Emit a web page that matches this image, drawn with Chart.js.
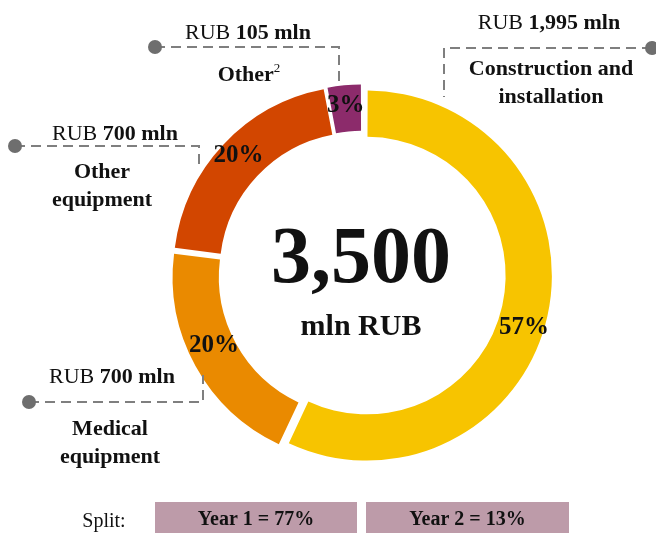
<!DOCTYPE html>
<html>
<head>
<meta charset="utf-8">
<script src="https://cdn.jsdelivr.net/npm/chart.js@4.4.0/dist/chart.umd.min.js"></script>
<style>
  html, body { margin: 0; padding: 0; background: #fff; }
  #wrap { width: 656px; height: 533px; }
</style>
</head>
<body>
<div id="wrap"><canvas id="cost-chart" width="656" height="533"></canvas></div>
<script>
/* global Chart */
const categories = ['Construction and installation', 'Medical equipment', 'Other equipment', 'Other'];
const amounts = [1995, 700, 700, 105];   // RUB mln
const shares = [57, 20, 20, 3];          // %
const splitLabels = ['Year 1 = 77%', 'Year 2 = 13%'];

const sliceColors = ['#F7C400', '#EA8A00', '#D24600', '#8C2B6B'];
const FONT = '"Liberation Serif", "DejaVu Serif", serif';
const EXPLODE = 20; // chart.js moves a slice offset/4 px

// callouts: name lines + leader line, same order as categories
const callouts = [
    { name: ['Construction and', 'installation'], amountX: 549, nameX: 551, amountY: 29, nameY: 75, path: [[652, 48], [444, 48], [444, 97]] },
    { name: ['Medical', 'equipment'], amountX: 112, nameX: 110, amountY: 383, nameY: 435, path: [[29, 402], [203, 402], [203, 375]] },
    { name: ['Other', 'equipment'], amountX: 115, nameX: 102, amountY: 140, nameY: 178, path: [[15, 146], [199, 146], [199, 170]] },
    { name: ['Other'], sup: '2', amountX: 248, nameX: 249, amountY: 39, nameY: 81, path: [[155, 47], [339, 47], [339, 82]] }
];
const labelNudge = [[4, 24], [-2, -3], [-2, 2], [-1, 0]];

function drawRuns(ctx, runs, cx, y) {
    let w = 0;
    runs.forEach(r => { ctx.font = r.font; r.w = ctx.measureText(r.text).width; w += r.w; });
    let x = cx - w / 2;
    ctx.textAlign = 'left';
    runs.forEach(r => {
        ctx.font = r.font;
        ctx.fillText(r.text, x, y + (r.dy || 0));
        x += r.w;
    });
}

// chart.js grows big exploded arcs a bit, keep all slices on one radius
const explodeFix = {
    id: 'explodeFix',
    beforeDatasetsDraw(chart) {
        const meta = chart.getDatasetMeta(0);
        const ctrl = meta.controller;
        meta.data.forEach(arc => {
            const t = (arc.options.offset || 0) / 4;
            const fix = 1 - Math.sin(Math.min(Math.PI, arc.circumference));
            arc.outerRadius = ctrl.outerRadius - t * fix;
            arc.innerRadius = ctrl.innerRadius - t * fix;
        });
    }
};

const annotations = {
    id: 'annotations',
    afterDraw(chart) {
        const ctx = chart.ctx;
        const meta = chart.getDatasetMeta(0);
        ctx.save();
        ctx.fillStyle = '#111';
        ctx.textBaseline = 'alphabetic';

        // percentage labels on the slices
        meta.data.forEach((arc, i) => {
            const { x, y, startAngle, endAngle, innerRadius, outerRadius } = arc;
            const a = (startAngle + endAngle) / 2;
            const r = (innerRadius + outerRadius) / 2 + EXPLODE / 4;
            ctx.font = 'bold 25px ' + FONT;
            ctx.textAlign = 'center';
            ctx.fillText(shares[i] + '%', x + Math.cos(a) * r + labelNudge[i][0], y + Math.sin(a) * r + labelNudge[i][1]);
        });

        // total in the middle
        const total = amounts.reduce((s, v) => s + v, 0);
        const cx = chart.chartArea.left + chart.chartArea.width / 2 - 1;
        ctx.textAlign = 'center';
        ctx.font = 'bold 80px ' + FONT;
        ctx.fillText(total.toLocaleString('en-US'), cx, 282);
        ctx.font = 'bold 30px ' + FONT;
        ctx.fillText('mln RUB', cx, 335);

        // leader lines
        callouts.forEach(c => {
            ctx.strokeStyle = '#7f7f7f';
            ctx.lineWidth = 2;
            ctx.setLineDash([10, 6]);
            ctx.beginPath();
            c.path.forEach((p, k) => k ? ctx.lineTo(p[0], p[1]) : ctx.moveTo(p[0], p[1]));
            ctx.stroke();
            ctx.setLineDash([]);
            ctx.fillStyle = '#6e6e6e';
            ctx.beginPath();
            ctx.arc(c.path[0][0], c.path[0][1], 7, 0, Math.PI * 2);
            ctx.fill();
        });

        // callout texts
        ctx.fillStyle = '#111';
        callouts.forEach((c, i) => {
            drawRuns(ctx, [
                { text: 'RUB ', font: '22px ' + FONT },
                { text: amounts[i].toLocaleString('en-US') + ' mln', font: 'bold 22px ' + FONT }
            ], c.amountX, c.amountY);
            c.name.forEach((line, k) => {
                const runs = [{ text: line, font: 'bold 22px ' + FONT }];
                if (c.sup && k === c.name.length - 1) runs.push({ text: c.sup, font: '13px ' + FONT, dy: -9 });
                drawRuns(ctx, runs, c.nameX, c.nameY + k * 28);
            });
        });

        // split boxes
        ctx.textAlign = 'center';
        ctx.font = '20px ' + FONT;
        ctx.fillText('Split:', 104, 527);
        const boxes = [[155, 202], [366, 203]];
        splitLabels.forEach((txt, i) => {
            ctx.fillStyle = '#BD9BA9';
            ctx.fillRect(boxes[i][0], 502, boxes[i][1], 31);
            ctx.fillStyle = '#111';
            ctx.font = 'bold 20px ' + FONT;
            ctx.fillText(txt, boxes[i][0] + boxes[i][1] / 2, 525);
        });
        ctx.restore();
    }
};

const ctx = document.getElementById('cost-chart').getContext('2d');
new Chart(ctx, {
    type: 'doughnut',
    data: {
        labels: categories,
        datasets: [{
            data: amounts,
            backgroundColor: sliceColors,
            borderWidth: 0,
            offset: EXPLODE,
            hoverOffset: 0
        }]
    },
    options: {
        responsive: false,
        animation: false,
        events: [],
        radius: 185,
        cutout: '75%',
        rotation: 0,
        layout: { padding: { left: 80, right: 12, top: 24, bottom: 8 } },
        plugins: {
            legend: { display: false },
            tooltip: { enabled: false }
        }
    },
    plugins: [explodeFix, annotations]
});
</script>
</body>
</html>
